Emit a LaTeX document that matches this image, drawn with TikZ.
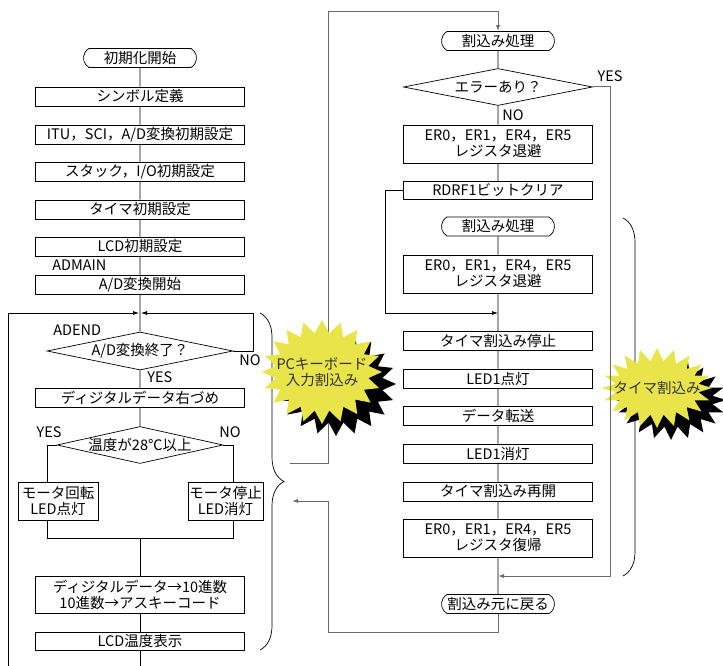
\documentclass[tikz,border=0pt]{standalone}
\usepackage{fontspec}
\setmainfont{Noto Sans CJK JP}
\usetikzlibrary{shapes.geometric,shapes.misc,shapes.symbols,shadows,decorations.pathreplacing,arrows.meta}
\definecolor{burstyel}{RGB}{232,228,74}
\definecolor{irqgray}{RGB}{105,105,105}

\begin{document}
\begin{tikzpicture}[x=1pt, y=-1pt, line width=0.7pt,
    every node/.style={font=\fontsize{14.5}{16}\selectfont, inner sep=0pt},
    box/.style={draw, fill=white, rectangle, minimum height=19pt, align=center},
    lbox/.style={box, minimum width=209pt},
    rbox/.style={box, minimum width=189pt},
    term/.style={draw, fill=white, rounded rectangle, rounded rectangle arc length=120, minimum width=113pt, minimum height=19pt},
    dec/.style={draw, fill=white, diamond, aspect=4.5, minimum width=#1, minimum height=37pt},
    lbl/.style={anchor=west},
    arr/.style={-{Latex[length=6pt,width=4pt]}},
    irq/.style={arr, irqgray, line width=1pt},
    burst/.style={starburst, draw=none, fill=burstyel, starburst points=20, starburst point height=13pt, random starburst=0, align=center, text=black!80, drop shadow={shadow xshift=14pt, shadow yshift=-12pt, fill=black, opacity=1}},
    brc/.style={decorate, decoration={brace, amplitude=24pt}}]
      \useasboundingbox (0,0) rectangle (723,666);
      \node[term] (init) at (140,58) {初期化開始};
      \node[lbox] (sym) at (140,96.5) {シンボル定義};
      \node[lbox] (itu) at (140,134.5) {ITU，SCI，A/D変換初期設定};
      \node[lbox] (stk) at (140,172) {スタック，I/O初期設定};
      \node[lbox] (tmr) at (140,209.5) {タイマ初期設定};
      \node[lbox] (lcd) at (140,246.5) {LCD初期設定};
      \node[lbox] (adst) at (140,284.5) {A/D変換開始};
      \node[dec=186pt, minimum height=38pt] (adend) at (140,351) {A/D変換終了？};
      \node[lbox] (shift) at (140,397.5) {ディジタルデータ右づめ};
      \node[dec=166pt] (temp) at (140,445) {温度が28℃以上};
      \node[box, minimum width=80pt, minimum height=38pt] (mon) at (58,501) {モータ回転\\LED点灯};
      \node[box, minimum width=75pt, minimum height=38pt] (moff) at (225.5,501) {モータ停止\\LED消灯};
      \node[lbox, minimum height=37pt] (conv) at (140,594.5) {ディジタルデータ→10進数\\10進数→アスキーコード};
      \node[lbox, minimum height=18pt] (disp) at (140,641) {LCD温度表示};
      \node[lbl] (admain) at (52,265) {ADMAIN};
      \node[lbl] (adendl) at (53,330) {ADEND};
      \node[lbl] (yes1) at (147,377) {YES};
      \node (no1) at (250,360) {NO};
      \node (yes2) at (49,432) {YES};
      \node (no2) at (230,432) {NO};
      \coordinate (loop) at (140,313);
      \coordinate (lbot) at (8,666);
      \coordinate (cbot) at (140,666);
      \coordinate (nox) at (253,313);
      \coordinate (jl) at (47,538);
      \coordinate (jr) at (233,538);
      \draw (init) -- (sym) -- (itu) -- (stk) -- (tmr) -- (lcd) -- (adst) -- (adend) -- (shift) -- (temp);
      \draw[arr, shorten >=1pt] (lbot) |- (loop);
      \draw[arr, shorten >=1pt] (adend.east) -| (nox) -- (loop);
      \draw (temp.west) -| (mon.north -| jl);
      \draw (temp.east) -| (moff.north -| jr);
      \draw (mon.south -| jl) -- (jl) -- (jr) -- (moff.south -| jr);
      \draw (conv.north |- jl) -- (conv) -- (disp) -- (cbot);
      \node[term] (irq) at (498,41) {割込み処理};
      \node[dec=189pt] (err) at (498,87) {エラーあり？};
      \node[rbox, minimum height=38pt] (save) at (498,144) {ER0，ER1，ER4，ER5\\レジスタ退避};
      \node[rbox, minimum height=18pt] (rdrf) at (498,190.5) {RDRF1ビットクリア};
      \node[term] (irq2) at (498,226.5) {割込み処理};
      \node[rbox, minimum height=38pt] (save2) at (498,274) {ER0，ER1，ER4，ER5\\レジスタ退避};
      \node[rbox] (tstop) at (498,341) {タイマ割込み停止};
      \node[rbox] (led1) at (498,378.5) {LED1点灯};
      \node[rbox] (xfer) at (498,416) {データ転送};
      \node[rbox] (led0) at (498,453.5) {LED1消灯};
      \node[rbox] (trest) at (498,491.5) {タイマ割込み再開};
      \node[rbox, minimum height=38pt] (rest) at (498,538) {ER0，ER1，ER4，ER5\\レジスタ復帰};
      \node[term] (ret) at (498,604) {割込み元に戻る};
      \node (yes3) at (610,76) {YES};
      \node[lbl] (no3) at (502,115) {NO};
      \coordinate (pcin) at (290,463);
      \coordinate (pctop) at (328,12);
      \coordinate (pcret) at (292,501);
      \coordinate (retb) at (328,632);
      \coordinate (rdx) at (385,313);
      \coordinate (jrd) at (498,313);
      \coordinate (yesx) at (610,576);
      \coordinate (jret) at (498,576);
      \draw (irq) -- (err) -- (save) -- (rdrf);
      \draw (irq2) -- (save2) -- (tstop) -- (led1) -- (xfer) -- (led0) -- (trest) -- (rest) -- (ret);
      \draw[arr] (rdrf.west) -| (rdx) -- (jrd);
      \draw[irq] (pcin) -| (pctop) -| (irq.north);
      \draw[irq] (ret) |- (retb) |- (pcret);
      \draw[brc] (260,313) -- (260,650);
      \draw[brc] (623,218) -- (623,576);
      \node[burst, minimum width=120pt, minimum height=104pt] (pc) at (322,372) {\makebox[0pt]{PCキーボード}\\\makebox[0pt]{入力割込み}};
      \node[burst, minimum width=110pt, minimum height=80pt] (tim) at (657,388) {\makebox[0pt]{タイマ割込み}};
      \draw[irq] (err.east) -| (yesx) -- (jret);
    \end{tikzpicture}
\end{document}
